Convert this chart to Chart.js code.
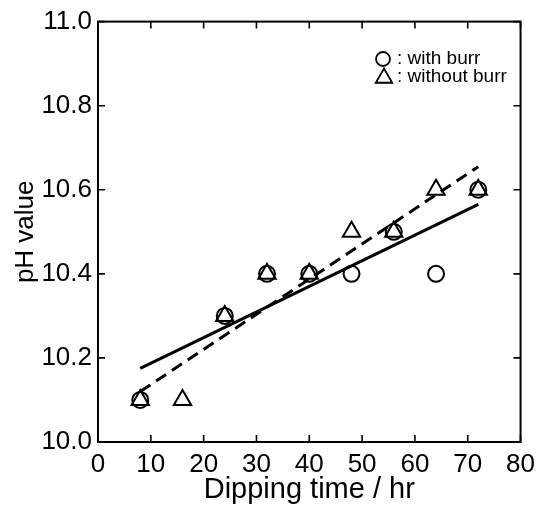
<!DOCTYPE html>
<html>
<head>
<meta charset="utf-8">
<script src="https://cdn.jsdelivr.net/npm/chart.js@4.4.1/dist/chart.umd.min.js"></script>
<style>
  html, body { margin: 0; padding: 0; background: #fff; }
  #wrap { width: 542px; height: 508px; }
</style>
</head>
<body>
<div id="wrap"><canvas id="myChart" width="542" height="508"></canvas></div>
<script>
// data
const timeWithBurr = [8, 24, 32, 40, 48, 56, 64, 72];
const phWithBurr = [10.1, 10.3, 10.4, 10.4, 10.4, 10.5, 10.4, 10.6];
const timeWithoutBurr = [8, 16, 24, 32, 40, 48, 56, 64, 72];
const phWithoutBurr = [10.1, 10.1, 10.3, 10.4, 10.4, 10.5, 10.5, 10.6, 10.6];
// fitted lines (end points as drawn)
const fitTime = [8, 72];
const fitWithBurr = [10.175, 10.565];
const fitWithoutBurr = [10.12, 10.655];

const xTicks = [0, 10, 20, 30, 40, 50, 60, 70, 80];
const yTickLabels = ['10.0', '10.2', '10.4', '10.6', '10.8', '11.0'];
const legendLabels = [': with burr', ': without burr'];

const FONT = '"Liberation Sans", Arial, Helvetica, sans-serif';

const toPoints = (xs, ys) => xs.map((x, i) => ({ x: x, y: ys[i] }));

// frame with inward ticks on all four sides + legend inside the plot
const framePlugin = {
  id: 'frame_and_legend',
  afterDraw: (chart) => {
    const ctx = chart.ctx;
    const a = chart.chartArea;
    const xs = chart.scales.x;
    const ys = chart.scales.y;
    const len = 7;
    ctx.save();
    ctx.strokeStyle = '#000';
    ctx.lineWidth = 1.6;
    ctx.beginPath();
    xTicks.forEach((t) => {
      const px = xs.getPixelForValue(t);
      ctx.moveTo(px, a.bottom); ctx.lineTo(px, a.bottom - len);
      ctx.moveTo(px, a.top); ctx.lineTo(px, a.top + len);
    });
    yTickLabels.forEach((t) => {
      const py = ys.getPixelForValue(parseFloat(t));
      ctx.moveTo(a.left, py); ctx.lineTo(a.left + len, py);
      ctx.moveTo(a.right, py); ctx.lineTo(a.right - len, py);
    });
    ctx.stroke();
    ctx.lineWidth = 2;
    ctx.strokeRect(a.left, a.top, a.right - a.left, a.bottom - a.top);

    // legend
    const lx = 383;
    const ly = [59, 77];
    ctx.fillStyle = 'rgba(0,0,0,0)';
    ctx.lineWidth = 1.8;
    Chart.helpers.drawPoint(ctx, { pointStyle: 'circle', radius: 7, borderWidth: 1.8 }, lx, ly[0]);
    Chart.helpers.drawPoint(ctx, { pointStyle: 'triangle', radius: 9.5, borderWidth: 1.8 }, lx + 1, ly[1] + 1);
    ctx.fillStyle = '#000';
    ctx.font = '19px ' + FONT;
    ctx.textBaseline = 'middle';
    ctx.textAlign = 'left';
    ctx.fillText(legendLabels[0], 397, ly[0]);
    ctx.fillText(legendLabels[1], 397, ly[1]);
    ctx.restore();
  },
};

new Chart(document.getElementById('myChart').getContext('2d'), {
  type: 'scatter',
  data: {
    datasets: [
      {
        label: 'without burr',
        data: toPoints(timeWithoutBurr, phWithoutBurr),
        pointStyle: 'triangle',
        pointRadius: 10,
        borderColor: '#000',
        backgroundColor: 'transparent',
        borderWidth: 2,
      },
      {
        label: 'with burr',
        data: toPoints(timeWithBurr, phWithBurr),
        pointStyle: 'circle',
        pointRadius: 8,
        borderColor: '#000',
        backgroundColor: 'transparent',
        borderWidth: 2,
      },
      {
        type: 'line',
        label: 'fit with burr',
        data: toPoints(fitTime, fitWithBurr),
        borderColor: '#000',
        borderWidth: 3,
        pointRadius: 0,
        fill: false,
      },
      {
        type: 'line',
        label: 'fit without burr',
        data: toPoints(fitTime, fitWithoutBurr),
        borderColor: '#000',
        borderWidth: 3,
        borderDash: [12, 7],
        pointRadius: 0,
        fill: false,
      },
    ],
  },
  options: {
    responsive: false,
    animation: false,
    events: [],
    layout: { padding: { left: 0, right: 20, top: 20, bottom: 0 } },
    scales: {
      x: {
        type: 'linear',
        min: 0,
        max: 80,
        afterBuildTicks: (scale) => { scale.ticks = xTicks.map((v) => ({ value: v })); },
        afterFit: (scale) => { scale.height = 66; },
        grid: { display: false, drawTicks: false },
        border: { display: false },
        ticks: {
          padding: 7,
          color: '#000',
          font: { family: FONT, size: 26 },
          maxRotation: 0,
          autoSkip: false,
        },
        title: {
          display: true,
          text: 'Dipping time / hr',
          color: '#000',
          font: { family: FONT, size: 29 },
          padding: { top: 0, bottom: 1 },
        },
      },
      y: {
        type: 'linear',
        min: 10,
        max: 11,
        afterBuildTicks: (scale) => { scale.ticks = yTickLabels.map((v) => ({ value: parseFloat(v) })); },
        afterFit: (scale) => { scale.width = 98; },
        grid: { display: false, drawTicks: false },
        border: { display: false },
        ticks: {
          padding: 6,
          color: '#000',
          font: { family: FONT, size: 26 },
          autoSkip: false,
          callback: (value) => yTickLabels.find((t) => parseFloat(t) === value) || '',
        },
        title: {
          display: true,
          text: 'pH value',
          color: '#000',
          font: { family: FONT, size: 26 },
          padding: { top: 10, bottom: 0 },
        },
      },
    },
    plugins: {
      legend: { display: false },
      tooltip: { enabled: false },
    },
  },
  plugins: [
    {
      id: 'custom_canvas_background_color',
      beforeDraw: (chart) => {
        const ctx = chart.canvas.getContext('2d');
        ctx.save();
        ctx.globalCompositeOperation = 'destination-over';
        ctx.fillStyle = 'white';
        ctx.fillRect(0, 0, chart.width, chart.height);
        ctx.restore();
      },
    },
    framePlugin,
  ],
});
</script>
</body>
</html>
